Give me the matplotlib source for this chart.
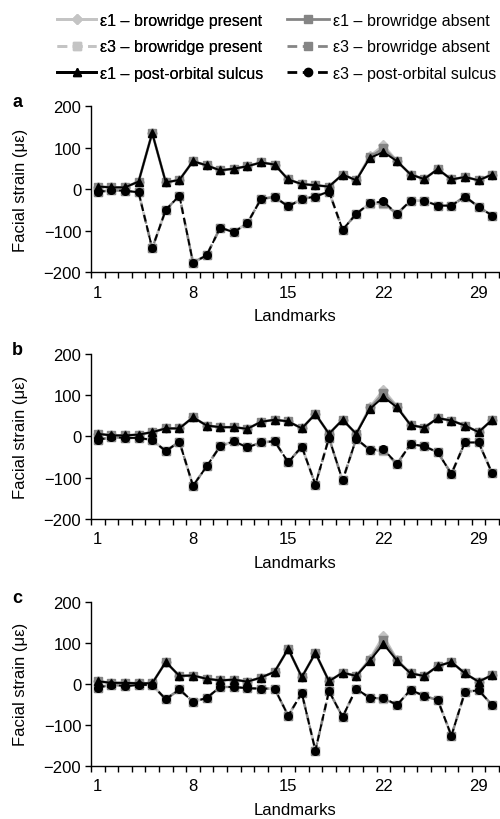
import matplotlib
matplotlib.use("Agg")
import matplotlib.pyplot as plt
from matplotlib.lines import Line2D
import numpy as np

plt.rcParams["font.family"] = ["Liberation Sans", "DejaVu Sans"]
plt.rcParams["font.size"] = 12

landmarks = np.arange(1, 31)
tick_landmarks = [1, 8, 15, 22, 29]
panel_names = ["a", "b", "c"]

# panel a
a_e1_present = [6, 4, 4, 18, 135, 16, 22, 67, 57, 45, 49, 55, 64, 59, 23, 12, 9, 6, 35, 21, 79, 105, 67, 35, 24, 48, 23, 29, 21, 35]
a_e1_absent = [6, 4, 4, 18, 135, 16, 22, 67, 57, 45, 49, 55, 64, 59, 23, 12, 9, 6, 35, 21, 77, 98, 67, 35, 24, 48, 23, 29, 21, 35]
a_e3_present = [-7, -3, -4, -8, -143, -50, -16, -177, -160, -93, -104, -82, -24, -19, -42, -24, -18, -6, -98, -60, -35, -35, -60, -28, -28, -40, -40, -18, -43, -64]
a_e3_absent = [-7, -3, -4, -8, -143, -50, -16, -177, -160, -93, -104, -82, -24, -19, -42, -24, -18, -6, -98, -60, -34, -33, -60, -28, -28, -40, -40, -18, -43, -64]
a_e1_sulcus = [6, 4, 4, 18, 135, 16, 22, 67, 57, 45, 49, 55, 64, 59, 23, 12, 9, 6, 35, 21, 75, 89, 67, 35, 24, 48, 23, 29, 21, 35]
a_e3_sulcus = [-7, -3, -4, -8, -143, -50, -16, -177, -160, -93, -104, -82, -24, -19, -42, -24, -18, -6, -98, -60, -34, -30, -60, -28, -28, -40, -40, -18, -43, -64]

# panel b
b_e1_present = [6, 2, 2, 4, 10, 19, 19, 46, 26, 22, 22, 18, 35, 40, 36, 19, 54, 6, 40, 6, 70, 112, 72, 27, 21, 44, 38, 26, 10, 40]
b_e1_absent = [6, 2, 2, 4, 10, 19, 19, 46, 26, 22, 22, 18, 35, 40, 36, 19, 54, 6, 40, 6, 68, 104, 71, 27, 21, 44, 38, 26, 10, 40]
b_e3_present = [-9, -2, -4, -4, -9, -36, -13, -120, -73, -24, -12, -27, -15, -12, -63, -25, -117, -4, -107, -6, -34, -35, -67, -19, -24, -39, -91, -15, -15, -90]
b_e3_absent = [-9, -2, -4, -4, -9, -36, -13, -120, -73, -24, -12, -27, -15, -12, -63, -25, -117, -4, -107, -6, -33, -33, -67, -19, -24, -39, -91, -15, -15, -90]
b_e1_sulcus = [6, 2, 2, 4, 10, 19, 19, 46, 26, 22, 22, 18, 35, 40, 36, 19, 54, 6, 40, 6, 66, 95, 70, 27, 21, 44, 38, 26, 10, 40]
b_e3_sulcus = [-9, -2, -4, -4, -9, -36, -13, -120, -73, -24, -12, -27, -15, -12, -63, -25, -117, -4, -107, -6, -33, -31, -67, -19, -24, -39, -91, -15, -15, -90]

# panel c
c_e1_present = [6, 2, 2, 1, 1, 53, 19, 20, 12, 8, 10, 5, 15, 29, 85, 16, 75, 6, 27, 19, 60, 116, 58, 25, 19, 43, 53, 25, 5, 21]
c_e1_absent = [6, 2, 2, 1, 1, 53, 19, 20, 12, 8, 10, 5, 15, 29, 85, 16, 75, 6, 27, 19, 58, 107, 57, 25, 19, 43, 53, 25, 5, 21]
c_e3_present = [-10, -2, -6, -3, -3, -38, -14, -44, -35, -8, -8, -11, -12, -12, -78, -23, -163, -18, -81, -12, -36, -38, -52, -15, -30, -40, -127, -20, -16, -52]
c_e3_absent = [-10, -2, -6, -3, -3, -38, -14, -44, -35, -8, -8, -11, -12, -12, -78, -23, -163, -18, -81, -12, -35, -36, -52, -15, -30, -40, -127, -20, -16, -52]
c_e1_sulcus = [6, 2, 2, 1, 1, 53, 19, 20, 12, 8, 10, 5, 15, 29, 85, 16, 75, 6, 27, 19, 56, 97, 56, 25, 19, 43, 53, 25, 5, 21]
c_e3_sulcus = [-10, -2, -6, -3, -3, -38, -14, -44, -35, -8, -8, -11, -12, -12, -78, -23, -163, -18, -81, -12, -35, -34, -52, -15, -30, -40, -127, -20, -16, -52]

panels = [
    (a_e1_present, a_e1_absent, a_e3_present, a_e3_absent, a_e1_sulcus, a_e3_sulcus),
    (b_e1_present, b_e1_absent, b_e3_present, b_e3_absent, b_e1_sulcus, b_e3_sulcus),
    (c_e1_present, c_e1_absent, c_e3_present, c_e3_absent, c_e1_sulcus, c_e3_sulcus),
]

light = "#c4c4c4"
mid = "#858585"
dash = (3.5, 2.0)
lw = 1.4

fig = plt.figure(figsize=(5, 8.2), dpi=100)
# axes boxes in figure fractions (left, bottom, width, height)
boxes = [(0.182, 0.667, 0.816, 0.2025), (0.182, 0.366, 0.816, 0.2015), (0.182, 0.065, 0.816, 0.2)]

for name, box, series in zip(panel_names, boxes, panels):
    e1p, e1a, e3p, e3a, e1s, e3s = series
    ax = fig.add_axes(box)
    ax.plot(landmarks, e1p, color=light, lw=lw + 0.6, marker="D", ms=5, zorder=2)
    ax.plot(landmarks, e3p, color=light, lw=lw + 0.6, ls="--", dashes=dash, marker="s", ms=6, zorder=2)
    ax.plot(landmarks, e1a, color=mid, lw=lw + 0.3, marker="s", ms=6, zorder=3)
    ax.plot(landmarks, e3a, color=mid, lw=lw + 0.3, ls="--", dashes=dash, marker="s", ms=6, zorder=3)
    ax.plot(landmarks, e1s, color="black", lw=lw, marker="^", ms=5.5, zorder=4)
    ax.plot(landmarks, e3s, color="black", lw=lw, ls="--", dashes=dash, marker="o", ms=5.5, zorder=4)

    ax.set_xlim(0.5, 30.5)
    ax.set_ylim(-200, 200)
    ax.set_yticks([-200, -100, 0, 100, 200])
    ax.set_xticks(tick_landmarks)
    ax.set_xticks(np.arange(0.5, 31, 1), minor=True)
    ax.tick_params(axis="x", which="major", length=0, pad=9, labelsize=12)
    ax.tick_params(axis="x", which="minor", length=4, width=1, direction="out")
    ax.tick_params(axis="y", length=4, width=1, direction="out", pad=3, labelsize=12)
    for side in ["top", "right"]:
        ax.spines[side].set_visible(False)
    for side in ["left", "bottom"]:
        ax.spines[side].set_linewidth(1.0)
    ax.set_xlabel("Landmarks", fontsize=12, labelpad=6)
    ax.set_ylabel("Facial strain (με)", fontsize=12)
    ax.yaxis.set_label_coords(-0.155, 0.5)
    ax.text(-0.193, 1.0, name, transform=ax.transAxes, fontsize=13, fontweight="bold", va="baseline")

left_handles = [
    Line2D([], [], color=light, lw=lw + 0.6, marker="D", ms=5),
    Line2D([], [], color=light, lw=lw + 0.6, ls="--", dashes=dash, marker="s", ms=6),
    Line2D([], [], color="black", lw=lw + 0.6, marker="^", ms=6),
]
left_labels = ["ε1 – browridge present", "ε3 – browridge present", "ε1 – post-orbital sulcus"]
right_handles = [
    Line2D([], [], color=mid, lw=lw + 0.6, marker="s", ms=6),
    Line2D([], [], color=mid, lw=lw + 0.6, ls="--", dashes=dash, marker="s", ms=6),
    Line2D([], [], color="black", lw=lw + 0.6, ls="--", dashes=dash, marker="o", ms=6),
]
right_labels = ["ε1 – browridge absent", "ε3 – browridge absent", "ε3 – post-orbital sulcus"]

leg_kw = dict(loc="upper left", frameon=False, borderpad=0, borderaxespad=0,
              handlelength=2.45, handletextpad=0.25, labelspacing=0.71, fontsize=11.5)
leg1 = fig.legend(left_handles, left_labels, bbox_to_anchor=(0.114, 0.983), **leg_kw)
fig.add_artist(leg1)
leg2 = fig.legend(right_handles, right_labels, bbox_to_anchor=(0.574, 0.983),
                  **dict(leg_kw, handlelength=2.6))

fig.savefig("out.png", dpi=100)
